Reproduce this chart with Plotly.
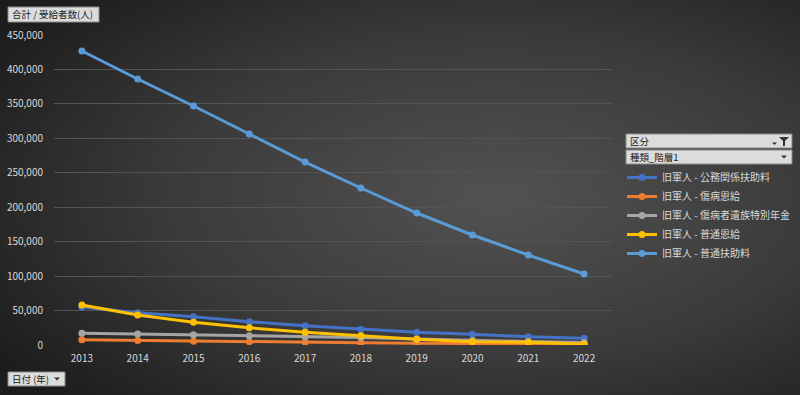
import base64
import plotly.graph_objects as go

years = ["2013", "2014", "2015", "2016", "2017", "2018", "2019", "2020", "2021", "2022"]
series_names = [
    "旧軍人 - 公務関係扶助料",
    "旧軍人 - 傷病恩給",
    "旧軍人 - 傷病者遺族特別年金",
    "旧軍人 - 普通恩給",
    "旧軍人 - 普通扶助料",
]
koumu = [55000, 46900, 41000, 33800, 28000, 22800, 18400, 15500, 12000, 9700]
shoubyou = [7500, 6500, 5500, 4700, 4000, 3300, 2700, 2100, 1600, 1100]
izoku = [17000, 16000, 15000, 13500, 12000, 11000, 8700, 6500, 5000, 3500]
futsuu_onkyu = [58000, 43500, 33000, 25000, 18400, 13500, 8300, 4800, 3900, 1500]
futsuu_fujo = [426800, 386100, 346900, 306300, 265600, 227900, 191600, 159700, 130600, 103100]
series_values = [koumu, shoubyou, izoku, futsuu_onkyu, futsuu_fujo]
colors = ["#4472C4", "#ED7D31", "#A5A5A5", "#FFC000", "#5B9BD5"]
y_ticks = [0, 50000, 100000, 150000, 200000, 250000, 300000, 350000, 400000, 450000]

W, H = 800, 395
L, R, T, B = 54, 612, 35, 345
FONT = "Noto Sans CJK JP, Noto Sans, sans-serif"

def px(x):
    return (x - L) / (R - L)

def py(y):
    return (B - y) / (B - T)

fig = go.Figure()
for name, vals, c in zip(series_names, series_values, colors):
    fig.add_trace(go.Scatter(
        x=years, y=vals, name=name, mode="lines+markers",
        line=dict(color=c, width=3),
        marker=dict(color=c, size=7),
    ))

svg = f'''<svg xmlns="http://www.w3.org/2000/svg" width="{W}" height="{H}">
<defs><radialGradient id="g" cx="62%" cy="50%" r="75%">
<stop offset="0%" stop-color="#525252"/><stop offset="55%" stop-color="#3a3a3a"/><stop offset="100%" stop-color="#1c1c1c"/>
</radialGradient></defs>
<rect width="{W}" height="{H}" fill="url(#g)"/></svg>'''
src = "data:image/svg+xml;base64," + base64.b64encode(svg.encode()).decode()

shapes = []
annotations = []

def button(x0, y0, x1, y1, text, arrow=True, size=9.5):
    shapes.append(dict(type="rect", xref="paper", yref="paper",
                       x0=px(x0), x1=px(x1), y0=py(y1), y1=py(y0),
                       fillcolor="#dcdcdc", line=dict(color="#8a8a8a", width=1), layer="above"))
    annotations.append(dict(xref="paper", yref="paper", x=px(x0 + 2), y=py((y0 + y1) / 2),
                            xanchor="left", yanchor="middle", text=text, showarrow=False,
                            font=dict(size=size, color="#1a1a1a", family=FONT)))
    if arrow:
        shapes.append(dict(type="path", xref="paper", yref="paper",
                           path=f"M {px(x1-11)} {py((y0+y1)/2-1.5)} L {px(x1-5)} {py((y0+y1)/2-1.5)} L {px(x1-8)} {py((y0+y1)/2+1.5)} Z",
                           fillcolor="#333333", line=dict(width=0), layer="above"))

button(8, 7, 99, 22, "合計 / 受給者数(人)", arrow=False)
button(8, 372, 65, 386, "日付 (年)", arrow=True)
button(626, 134, 792, 148, "区分", arrow=False)
# filter icon
shapes.append(dict(type="path", xref="paper", yref="paper",
                   path=f"M {px(779)} {py(137)} L {px(789)} {py(137)} L {px(785)} {py(141)} L {px(785)} {py(146)} L {px(783)} {py(146)} L {px(783)} {py(141)} Z",
                   fillcolor="#333333", line=dict(width=0), layer="above"))
shapes.append(dict(type="path", xref="paper", yref="paper",
                   path=f"M {px(772)} {py(142.5)} L {px(777)} {py(142.5)} L {px(774.5)} {py(145)} Z",
                   fillcolor="#333333", line=dict(width=0), layer="above"))
button(626, 150, 792, 164, "種類_階層1", arrow=True)

fig.update_layout(
    width=W, height=H,
    margin=dict(l=L, r=W - R, t=T, b=H - B, autoexpand=False),
    paper_bgcolor="#2a2a2a",
    plot_bgcolor="rgba(0,0,0,0)",
    images=[dict(source=src, xref="paper", yref="paper",
                 x=-L / (R - L), y=1 + T / (B - T),
                 sizex=W / (R - L), sizey=H / (B - T),
                 xanchor="left", yanchor="top", sizing="stretch", layer="below")],
    font=dict(family=FONT, color="#d9d9d9", size=10),
    xaxis=dict(type="category", range=[-0.5, 9.5], showgrid=False, zeroline=False,
               showline=False, ticks="", ticklabelstandoff=6,
               tickfont=dict(size=10, color="#d9d9d9")),
    yaxis=dict(range=[0, 450000], tickvals=y_ticks, tickformat=",d",
               gridcolor="#545454", gridwidth=1, zeroline=False, showline=False,
               ticks="", ticklabelstandoff=10,
               tickfont=dict(size=10, color="#d9d9d9")),
    legend=dict(x=px(622), y=py(163), xanchor="left", yanchor="top",
                bgcolor="rgba(0,0,0,0)", font=dict(size=10, color="#d9d9d9", family=FONT),
                itemwidth=30, tracegroupgap=0, traceorder="normal"),
    shapes=shapes,
    annotations=annotations,
    showlegend=True,
)

fig.write_html("out.html", config={"displayModeBar": False},
               post_script="document.body.style.margin='0';document.body.style.background='#2a2a2a';")
